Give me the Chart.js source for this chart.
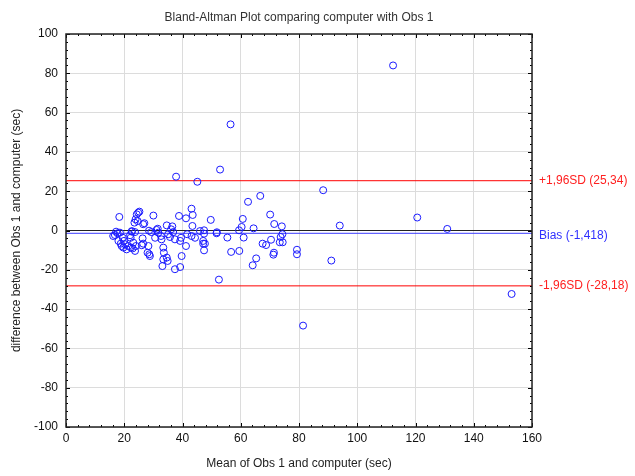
<!DOCTYPE html>
<html>
<head>
<meta charset="utf-8">
<script src="https://cdn.jsdelivr.net/npm/chart.js@4.4.0/dist/chart.umd.min.js"></script>
<style>
  html, body { margin: 0; padding: 0; background: #fff; }
  #wrap { width: 635px; height: 476px; }
</style>
</head>
<body>
<div id="wrap"><canvas id="baChart" width="635" height="476"></canvas></div>
<script>
// --- data ---
const meanVals = [
  112.3, 56.5, 52.9, 37.8, 45.1, 88.3, 66.7, 62.5, 43.1, 25.2,
  24.8, 24.3, 70.1, 43.5, 30.0, 38.8, 18.3, 120.6, 41.2, 60.7,
  23.9, 49.7, 24.6, 23.5, 26.9, 26.5, 71.5, 94.0, 34.6, 43.4,
  74.1, 36.5, 60.3, 64.4, 31.5, 130.9, 36.1, 31.1, 59.4, 47.4,
  28.5, 46.0, 22.6, 17.2, 22.6, 36.8, 29.3, 23.7, 51.8, 18.5,
  31.7, 51.7, 17.7, 47.4, 74.3, 35.1, 41.6, 16.8, 22.0, 16.2,
  32.6, 43.1, 35.7, 73.7, 55.4, 61.0, 19.5, 22.2, 30.6, 39.5,
  44.3, 26.3, 32.8, 37.4, 70.4, 19.9, 18.0, 39.2, 47.1, 73.4,
  74.4, 23.1, 67.5, 47.1, 26.5, 18.8, 47.7, 20.3, 68.7, 26.0,
  19.1, 21.4, 24.0, 28.3, 41.2, 19.7, 22.3, 33.4, 22.9, 20.8,
  79.3, 47.4, 59.5, 23.7, 56.7, 28.0, 33.6, 71.4, 28.6, 79.3,
  71.2, 39.7, 28.8, 34.6, 65.3, 33.4, 91.1, 34.9, 64.1, 33.1,
  39.2, 37.4, 52.5, 153.0, 81.4
];
const diffVals = [
  84.0, 54.0, 31.0, 27.4, 24.8, 20.5, 17.6, 14.6, 11.1, 9.6,
  9.1, 8.2, 8.1, 7.9, 7.6, 7.4, 6.9, 6.6, 6.2, 5.9,
  5.7, 5.4, 4.8, 4.0, 3.7, 3.2, 3.3, 2.5, 2.6, 2.3,
  2.1, 2.1, 1.8, 1.1, 0.9, 0.8, 0.6, 0.3, 0.1, 0.1,
  -0.1, -0.3, -0.3, -0.6, -0.6, -0.8, -0.8, -0.8, -0.9, -1.1,
  -1.1, -1.4, -1.4, -1.6, -1.9, -1.9, -1.9, -2.3, -2.4, -2.8,
  -2.8, -2.8, -3.3, -3.3, -3.6, -3.6, -3.7, -3.7, -3.7, -3.7,
  -3.7, -4.0, -4.5, -4.5, -4.7, -5.3, -5.3, -5.3, -5.3, -6.0,
  -6.0, -6.2, -6.7, -6.7, -6.7, -6.7, -6.7, -7.0, -7.4, -7.5,
  -7.9, -7.9, -7.9, -7.9, -7.9, -8.7, -8.7, -8.7, -9.1, -9.6,
  -9.8, -10.1, -10.4, -10.4, -10.9, -11.3, -11.3, -11.3, -12.1, -12.1,
  -12.3, -13.0, -13.0, -13.8, -14.2, -14.7, -15.3, -15.5, -17.7, -18.1,
  -18.6, -19.7, -25.0, -32.3, -48.4
];

const bias = -1.418;
const upperLoA = 25.34;
const lowerLoA = -28.18;
const xRange = [0, 160];
const yRange = [-100, 100];
const xTicks = [0, 20, 40, 60, 80, 100, 120, 140, 160];
const yTicks = [-100, -80, -60, -40, -20, 0, 20, 40, 60, 80, 100];

const fontFam = '"Liberation Sans", Arial, sans-serif';
const points = meanVals.map((m, i) => ({ x: m, y: diffVals[i] }));
const hLine = v => xRange.map(x => ({ x: x, y: v }));

// frame + inside tick marks + right-hand labels
const framePlugin = {
  id: 'frame',
  afterDraw(chart) {
    const ctx = chart.ctx;
    const a = chart.chartArea;
    const xs = chart.scales.x, ys = chart.scales.y;
    ctx.save();
    ctx.strokeStyle = '#000';
    ctx.lineWidth = 1;
    ctx.beginPath();
    for (let v = xRange[0]; v <= xRange[1]; v += 4) {
      const px = Math.round(xs.getPixelForValue(v)) + 0.5;
      const len = v % 20 === 0 ? 4 : 2;
      ctx.moveTo(px, a.bottom); ctx.lineTo(px, a.bottom - len);
      ctx.moveTo(px, a.top); ctx.lineTo(px, a.top + len);
    }
    for (let v = yRange[0]; v <= yRange[1]; v += 4) {
      const py = Math.round(ys.getPixelForValue(v)) + 0.5;
      const len = v % 20 === 0 ? 4 : 2;
      ctx.moveTo(a.left, py); ctx.lineTo(a.left + len, py);
      ctx.moveTo(a.right, py); ctx.lineTo(a.right - len, py);
    }
    ctx.stroke();
    ctx.strokeStyle = '#222';
    ctx.lineWidth = 1.5;
    ctx.strokeRect(a.left, a.top, a.right - a.left, a.bottom - a.top);

    ctx.font = '12px ' + fontFam;
    ctx.textBaseline = 'middle';
    ctx.textAlign = 'left';
    const tx = a.right + 7;
    ctx.fillStyle = '#ff2020';
    ctx.fillText('+1,96SD (25,34)', tx, ys.getPixelForValue(upperLoA));
    ctx.fillText('-1,96SD (-28,18)', tx, ys.getPixelForValue(lowerLoA));
    ctx.fillStyle = '#3030ff';
    ctx.fillText('Bias (-1,418)', tx, ys.getPixelForValue(bias) + 2);
    ctx.restore();
  }
};

const lineDs = (data, color) => ({
  type: 'line', data: data, borderColor: color, borderWidth: 1,
  pointRadius: 0, fill: false, order: 2
});

new Chart(document.getElementById('baChart'), {
  type: 'scatter',
  data: {
    datasets: [
      {
        data: points,
        pointStyle: 'circle',
        pointRadius: 3.5,
        pointBorderWidth: 1,
        pointBorderColor: '#1a1aff',
        pointBackgroundColor: 'rgba(0,0,0,0)',
        order: 1
      },
      lineDs(hLine(0), '#222222'),
      lineDs(hLine(bias), '#3a3aff'),
      lineDs(hLine(upperLoA), '#ff0000'),
      lineDs(hLine(lowerLoA), '#ff0000')
    ]
  },
  options: {
    responsive: false,
    animation: false,
    layout: { padding: { left: 5, right: 103, top: 0, bottom: 0 } },
    plugins: {
      legend: { display: false },
      tooltip: { enabled: false },
      title: {
        display: true,
        fullSize: false,
        text: 'Bland-Altman Plot comparing computer with Obs 1',
        color: '#333',
        font: { family: fontFam, size: 12, weight: 'normal' },
        padding: { top: 10, bottom: 9.6 }
      }
    },
    scales: {
      x: {
        type: 'linear',
        min: xRange[0], max: xRange[1],
        afterBuildTicks: s => { s.ticks = xTicks.map(v => ({ value: v })); },
        afterFit: s => { s.height = 49; },
        grid: { color: '#dcdcdc', lineWidth: 1, drawTicks: false },
        border: { display: false },
        ticks: { color: '#111', padding: 4, maxRotation: 0, font: { family: fontFam, size: 12 } },
        title: {
          display: true, text: 'Mean of Obs 1 and computer (sec)', color: '#222',
          font: { family: fontFam, size: 12 }, padding: { top: 4, bottom: 5 }
        }
      },
      y: {
        type: 'linear',
        min: yRange[0], max: yRange[1],
        afterBuildTicks: s => { s.ticks = yTicks.map(v => ({ value: v })); },
        afterFit: s => { s.width = 61; },
        grid: { color: '#dcdcdc', lineWidth: 1, drawTicks: false },
        border: { display: false },
        ticks: { color: '#111', padding: 8, font: { family: fontFam, size: 12 } },
        title: {
          display: true, text: 'difference between Obs 1 and computer (sec)', color: '#222',
          font: { family: fontFam, size: 12 }, padding: { top: 4, bottom: 4 }
        }
      }
    }
  },
  plugins: [framePlugin]
});
</script>
</body>
</html>
